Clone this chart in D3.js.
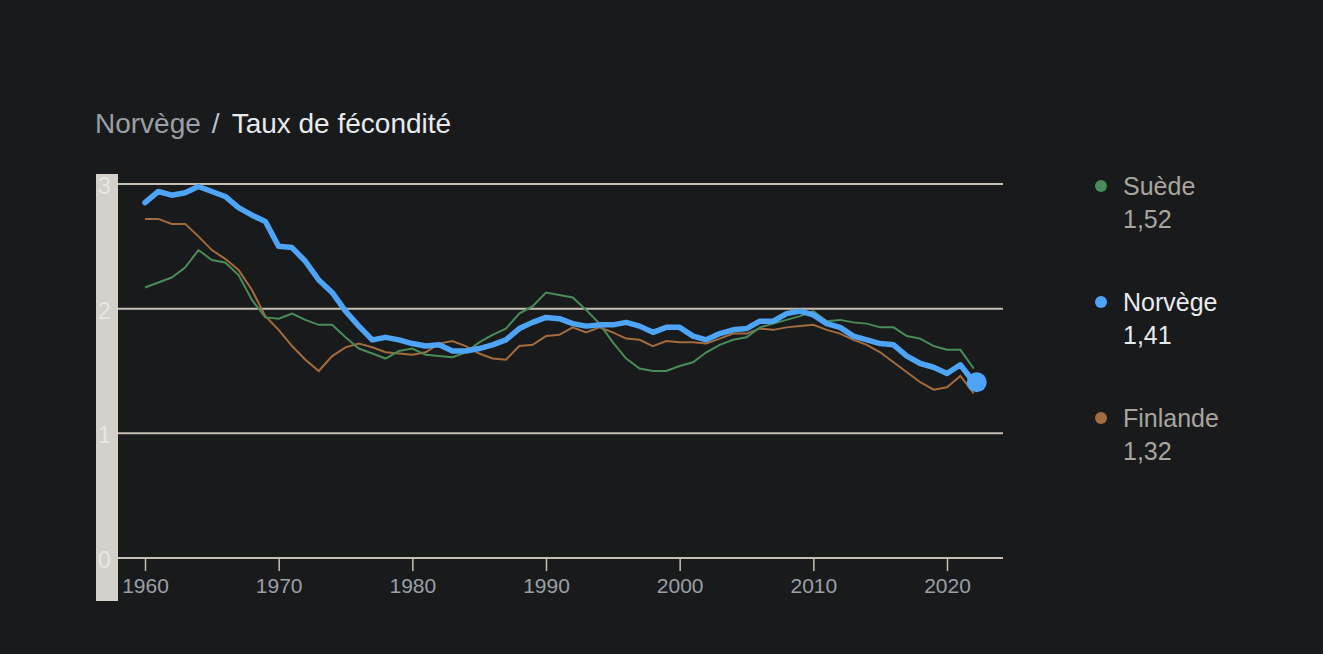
<!DOCTYPE html>
<html><head><meta charset="utf-8">
<script src="https://cdn.jsdelivr.net/npm/d3@7"></script>
<style>
html,body{margin:0;padding:0;background:#191a1c;}
svg{display:block;font-family:"Liberation Sans",Arial,sans-serif;}
</style></head>
<body><svg id="c" width="1323" height="654"></svg>
<script>
const years = d3.range(1960, 2023);
const norvege = [2.85,2.94,2.91,2.93,2.98,2.94,2.90,2.81,2.75,2.70,2.50,2.49,2.38,2.23,2.13,1.98,1.86,1.75,1.77,1.75,1.72,1.70,1.71,1.66,1.66,1.68,1.71,1.75,1.84,1.89,1.93,1.92,1.88,1.86,1.87,1.87,1.89,1.86,1.81,1.85,1.85,1.78,1.75,1.80,1.83,1.84,1.90,1.90,1.96,1.98,1.95,1.88,1.85,1.78,1.75,1.72,1.71,1.62,1.56,1.53,1.48,1.55,1.41];
const suede = [2.17,2.21,2.25,2.33,2.47,2.39,2.37,2.27,2.07,1.93,1.92,1.96,1.91,1.87,1.87,1.77,1.68,1.64,1.60,1.66,1.68,1.63,1.62,1.61,1.65,1.73,1.79,1.84,1.96,2.02,2.13,2.11,2.09,1.99,1.88,1.73,1.60,1.52,1.50,1.50,1.54,1.57,1.65,1.71,1.75,1.77,1.85,1.88,1.91,1.94,1.98,1.90,1.91,1.89,1.88,1.85,1.85,1.78,1.76,1.70,1.67,1.67,1.52];
const finlande = [2.72,2.72,2.68,2.68,2.58,2.47,2.40,2.31,2.15,1.94,1.83,1.70,1.59,1.50,1.62,1.69,1.72,1.69,1.65,1.64,1.63,1.65,1.72,1.74,1.70,1.64,1.60,1.59,1.70,1.71,1.78,1.79,1.85,1.81,1.85,1.81,1.76,1.75,1.70,1.74,1.73,1.73,1.72,1.76,1.80,1.80,1.84,1.83,1.85,1.86,1.87,1.83,1.80,1.75,1.71,1.65,1.57,1.49,1.41,1.35,1.37,1.46,1.32];
const yTicks = [0,1,2,3];
const xTicks = [1960,1970,1980,1990,2000,2010,2020];
const seriesNames = ["Suède","Norvège","Finlande"];
const seriesValues = ["1,52","1,41","1,32"];
const seriesColors = ["#4a8c58","#4ea4f6","#a26c3e"];

const svg = d3.select("#c");
const x = d3.scaleLinear().domain([1960,2020]).range([145,947]);
const y = d3.scaleLinear().domain([0,3]).range([558,184]);

// title
const t = svg.append("text").attr("x",95).attr("y",133).attr("font-size",28);
t.append("tspan").attr("fill","#9aa0a6").text("Norvège");
t.append("tspan").attr("fill","#bdc1c6").attr("dx",11).text("/");
t.append("tspan").attr("fill","#e8eaed").attr("dx",12).text("Taux de fécondité");

// y axis panel
svg.append("rect").attr("x",96).attr("y",174).attr("width",22).attr("height",427).attr("fill","#d4d1ca");
svg.selectAll(".yl").data(yTicks).join("text")
  .attr("x",98).attr("y",d=>y(d)+10).attr("font-size",23).attr("fill","#e9e7e3").text(d=>d);

// grid
svg.selectAll(".gl").data(yTicks.filter(d=>d>0)).join("line")
  .attr("x1",118).attr("x2",1003).attr("y1",d=>y(d)).attr("y2",d=>y(d))
  .attr("stroke","#c6bfb3").attr("stroke-width",2);

// x axis
const xa = svg.append("g").attr("transform","translate(0,558)")
  .call(d3.axisBottom(x).tickValues(xTicks).tickFormat(d3.format("d")).tickSize(13).tickPadding(7));
xa.select(".domain").remove();
xa.selectAll(".tick line").attr("stroke","#c6bfb3").attr("stroke-width",1.5);
xa.selectAll(".tick text").attr("fill","#9aa0a6").attr("font-size",21).attr("font-family","Liberation Sans, Arial, sans-serif");
svg.append("line").attr("x1",118).attr("x2",1003).attr("y1",558).attr("y2",558).attr("stroke","#c6bfb3").attr("stroke-width",2);

const line = d3.line().x((d,i)=>x(years[i])).y(d=>y(d));
svg.append("path").datum(finlande).attr("d",line).attr("fill","none").attr("stroke",seriesColors[2]).attr("stroke-width",2);
svg.append("path").datum(suede).attr("d",line).attr("fill","none").attr("stroke",seriesColors[0]).attr("stroke-width",2);
svg.append("path").datum(norvege).attr("d",line).attr("fill","none").attr("stroke",seriesColors[1]).attr("stroke-width",5.5).attr("stroke-linejoin","round").attr("stroke-linecap","round");
svg.append("circle").attr("cx",x(2022)+3).attr("cy",y(norvege[norvege.length-1])).attr("r",10).attr("fill",seriesColors[1]);

// legend
const lg = svg.selectAll(".lg").data(seriesNames).join("g").attr("transform",(d,i)=>`translate(0,${186+i*116})`);
lg.append("circle").attr("cx",1101).attr("cy",0).attr("r",6).attr("fill",(d,i)=>seriesColors[i]);
lg.append("text").attr("x",1123).attr("y",9).attr("font-size",25).attr("fill",(d,i)=>i===1?"#e8eaed":"#a8a59e").text(d=>d);
lg.append("text").attr("x",1123).attr("y",42).attr("font-size",25).attr("fill",(d,i)=>i===1?"#e8eaed":"#a8a59e").text((d,i)=>seriesValues[i]);
</script></body></html>
